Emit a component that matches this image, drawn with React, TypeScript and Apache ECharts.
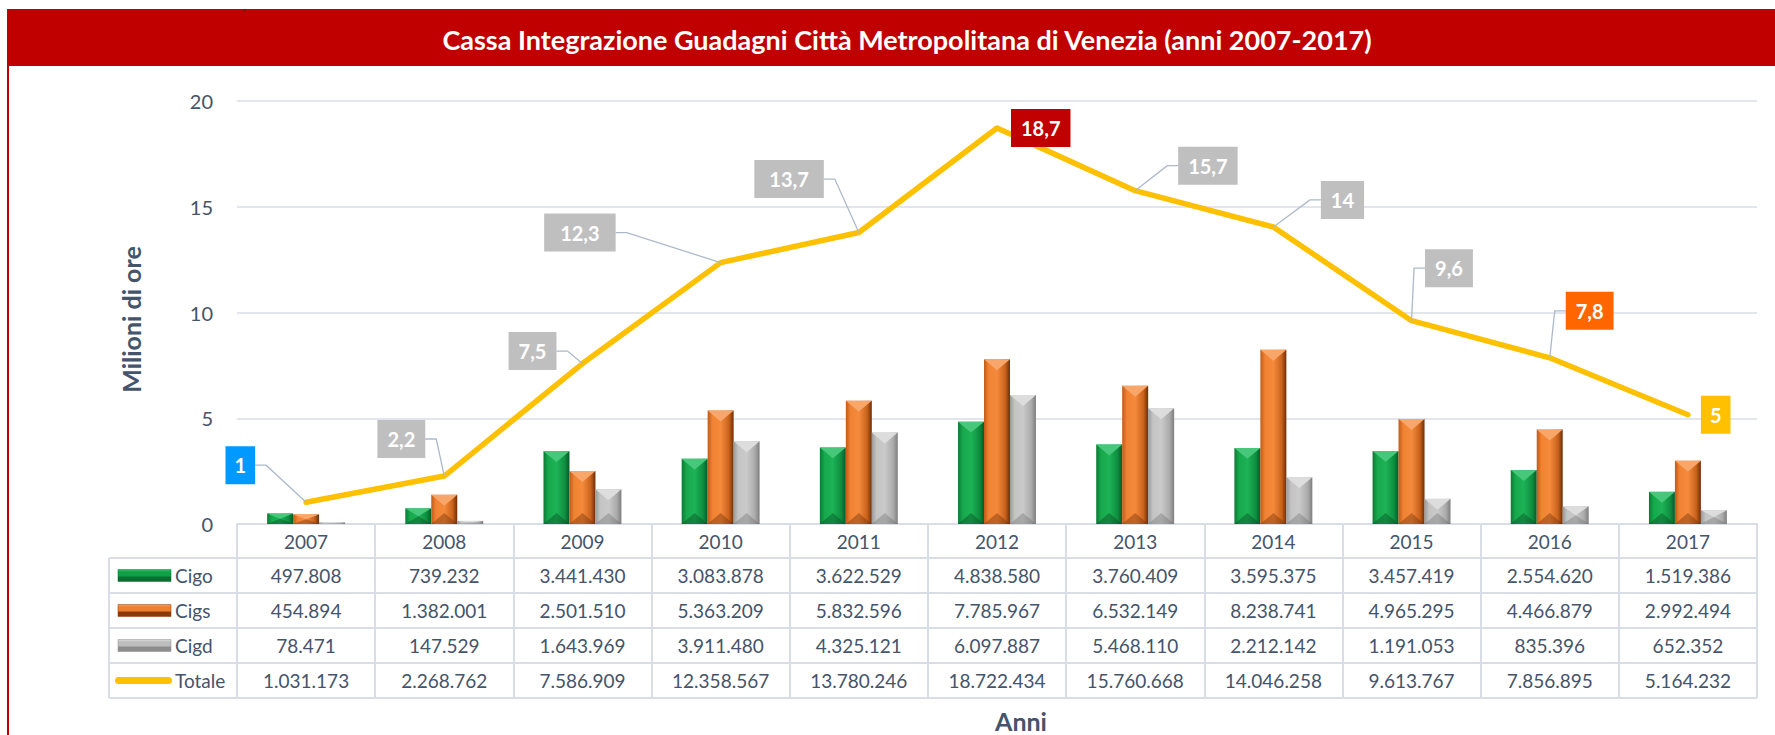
import React, { useEffect, useRef } from 'react';
import * as echarts from 'echarts';

const years = ['2007', '2008', '2009', '2010', '2011', '2012', '2013', '2014', '2015', '2016', '2017'];
const cigo = [497808, 739232, 3441430, 3083878, 3622529, 4838580, 3760409, 3595375, 3457419, 2554620, 1519386];
const cigs = [454894, 1382001, 2501510, 5363209, 5832596, 7785967, 6532149, 8238741, 4965295, 4466879, 2992494];
const cigd = [78471, 147529, 1643969, 3911480, 4325121, 6097887, 5468110, 2212142, 1191053, 835396, 652352];
const totale = [1031173, 2268762, 7586909, 12358567, 13780246, 18722434, 15760668, 14046258, 9613767, 7856895, 5164232];
const totaleLabels = ['1', '2,2', '7,5', '12,3', '13,7', '18,7', '15,7', '14', '9,6', '7,8', '5'];
const seriesNames = ['Cigo', 'Cigs', 'Cigd', 'Totale'];
const titleText = 'Cassa Integrazione Guadagni Città Metropolitana di Venezia (anni 2007-2017)';
const yAxisTitle = 'Milioni di ore';
const xAxisTitle = 'Anni';
const yMin = 0;
const yMax = 20;
const yStep = 5;

// label styling / placement (offset of the box's anchor edge from the point)
const labelColors = ['#0099FF', '#BFBFBF', '#BFBFBF', '#BFBFBF', '#BFBFBF', '#C00000', '#BFBFBF', '#BFBFBF', '#BFBFBF', '#FF6600', '#FFC000'];
const labelPadX = [9, 10, 10, 16, 15, 10, 10, 10, 10, 10, 9];
const labelLayout: [number, number, 'R' | 'L', boolean][] = [
  [-51, -37, 'R', true],
  [-19, -37, 'R', true],
  [-26, -12.5, 'R', true],
  [-105, -30, 'R', true],
  [-35, -53.5, 'R', true],
  [14, 0, 'L', false],
  [43, -25, 'L', true],
  [47.5, -27, 'L', true],
  [13.5, -52.5, 'L', true],
  [16, -47, 'L', true],
  [13, 0, 'L', false],
];

const TEXT = '#44546A';
const GRIDC = '#D9DEE6';
const FONT = 'Lato';

const barStyles = [
  {
    stops: ['#0B7A35', '#17A84C', '#1DB356', '#0F8E40', '#075A26'],
    top: '#47C77A', bottom: 'rgba(4,70,30,0.4)',
    legend: ['#3CC26E', '#11A047', '#0B6E30'],
  },
  {
    stops: ['#C25A15', '#F08333', '#F58A3C', '#C8621C', '#6E2E06'],
    top: '#F9A66B', bottom: 'rgba(110,45,5,0.4)',
    legend: ['#FBA262', '#EE7F30', '#8A3A0A'],
  },
  {
    stops: ['#9A9A9A', '#C4C4C4', '#CACACA', '#ABABAB', '#7E7E7E'],
    top: '#DDDDDD', bottom: 'rgba(90,90,90,0.3)',
    legend: ['#E0E0E0', '#BDBDBD', '#8C8C8C'],
  },
];

const fmt = (n: number) => String(n).replace(/\B(?=(\d{3})+(?!\d))/g, '.');

// layout
const GRID_LEFT = 237;
const GRID_RIGHT_X = 1757;
const GRID_TOP = 101;
const GRID_BOTTOM_Y = 524;
const HEADER_H = 34;
const ROW_H = 35;
const TABLE_LEFT = 109;

function makeBars(name: string, values: number[], idx: number) {
  const st = barStyles[idx];
  return {
    type: 'custom',
    name,
    xAxisIndex: 0,
    yAxisIndex: 0,
    clip: false,
    z: 2,
    data: values.map((v, i) => [i, v / 1e6]),
    renderItem: (params: any, api: any) => {
      const cat = api.value(0);
      const v = api.value(1);
      const top = api.coord([cat, v]);
      const base = api.coord([cat, 0]);
      const band = api.size([1, 0])[0];
      const w = band * 0.188;
      const x0 = top[0] + (idx - 1) * w - w / 2;
      const x1 = x0 + w;
      const xc = (x0 + x1) / 2;
      const yT = top[1];
      const yB = base[1];
      const h = Math.max(0, yB - yT);
      const b = Math.min(w * 0.42, h / 2);
      const grad = new echarts.graphic.LinearGradient(0, 0, 1, 0, [
        { offset: 0, color: st.stops[0] },
        { offset: 0.18, color: st.stops[1] },
        { offset: 0.5, color: st.stops[2] },
        { offset: 0.82, color: st.stops[3] },
        { offset: 1, color: st.stops[4] },
      ]);
      return {
        type: 'group',
        children: [
          { type: 'rect', shape: { x: x0, y: yT, width: w, height: h }, style: { fill: grad } },
          { type: 'polygon', shape: { points: [[x0, yT], [x1, yT], [xc, yT + b]] }, style: { fill: st.top } },
          { type: 'polygon', shape: { points: [[x0, yB], [x1, yB], [xc, yB - b]] }, style: { fill: st.bottom } },
        ],
      };
    },
  };
}

export default function App() {
  const ref = useRef<HTMLDivElement>(null);

  useEffect(() => {
    if (!ref.current) return;
    const chart = echarts.init(ref.current, undefined, { renderer: 'svg' });

    const rows = [cigo, cigs, cigd, totale];
    const baseAxis = {
      type: 'category',
      data: years,
      position: 'bottom',
      gridIndex: 0,
      boundaryGap: true,
      axisLine: { show: true, lineStyle: { color: GRIDC, width: 2 } },
      axisTick: { show: true, interval: 0, alignWithLabel: false, inside: false, lineStyle: { color: GRIDC, width: 2 } },
      splitLine: { show: false },
    };
    const xAxes: any[] = [
      {
        ...baseAxis,
        axisTick: { ...baseAxis.axisTick, length: HEADER_H },
        axisLabel: { interval: 0, margin: HEADER_H / 2, verticalAlign: 'middle', color: TEXT, fontSize: 19, fontFamily: FONT },
      },
    ];
    rows.forEach((r, k) => {
      xAxes.push({
        ...baseAxis,
        offset: HEADER_H + k * ROW_H,
        axisTick: { ...baseAxis.axisTick, length: ROW_H },
        axisLabel: {
          interval: 0,
          margin: ROW_H / 2,
          verticalAlign: 'middle',
          color: TEXT,
          fontSize: 19,
          fontFamily: FONT,
          formatter: (_v: string, i: number) => fmt(r[i]),
        },
      });
    });

    const graphics: any[] = [
      { type: 'rect', z: 0, shape: { x: 8, y: 9, width: 1800, height: 57 }, style: { fill: '#C00000' } },
      { type: 'rect', z: 0, shape: { x: 7, y: 9, width: 2, height: 740 }, style: { fill: '#C00000' } },
      { type: 'text', z: 1, x: 243, y: 0, style: { text: ',', fontSize: 11, fontFamily: 'serif', fill: '#222', verticalAlign: 'top' } },
      {
        type: 'text', z: 5, x: 131, y: (GRID_TOP + GRID_BOTTOM_Y) / 2 + 7, rotation: Math.PI / 2,
        style: { text: yAxisTitle, align: 'center', verticalAlign: 'middle', fill: TEXT, fontSize: 25, fontWeight: 'bold', fontFamily: FONT },
      },
      {
        type: 'text', z: 5, x: 1021, y: 721,
        style: { text: xAxisTitle, align: 'center', verticalAlign: 'middle', fill: TEXT, fontSize: 25, fontWeight: 'bold', fontFamily: FONT },
      },
    ];
    // table frame pieces in the legend column + outer lines
    const lineStyle = { stroke: GRIDC, lineWidth: 2 };
    const tableBottom = GRID_BOTTOM_Y + HEADER_H + rows.length * ROW_H;
    for (let k = 0; k < rows.length; k++) {
      const y = GRID_BOTTOM_Y + HEADER_H + k * ROW_H;
      graphics.push({ type: 'line', z: 1, shape: { x1: TABLE_LEFT, y1: y, x2: GRID_LEFT, y2: y }, style: lineStyle });
    }
    graphics.push({ type: 'line', z: 1, shape: { x1: TABLE_LEFT, y1: tableBottom, x2: GRID_RIGHT_X, y2: tableBottom }, style: lineStyle });
    graphics.push({ type: 'line', z: 1, shape: { x1: TABLE_LEFT, y1: GRID_BOTTOM_Y + HEADER_H, x2: TABLE_LEFT, y2: tableBottom }, style: lineStyle });
    graphics.push({ type: 'line', z: 1, shape: { x1: GRID_LEFT, y1: GRID_BOTTOM_Y, x2: GRID_LEFT, y2: tableBottom }, style: lineStyle });
    graphics.push({ type: 'line', z: 1, shape: { x1: GRID_RIGHT_X, y1: GRID_BOTTOM_Y, x2: GRID_RIGHT_X, y2: tableBottom }, style: lineStyle });

    // row headers (legend keys)
    seriesNames.forEach((name, k) => {
      const cy = GRID_BOTTOM_Y + HEADER_H + k * ROW_H + ROW_H / 2;
      if (k < 3) {
        const lg = barStyles[k].legend;
        graphics.push({
          type: 'rect', z: 2, shape: { x: 118, y: cy - 6, width: 53, height: 12 },
          style: {
            fill: new echarts.graphic.LinearGradient(0, 0, 0, 1, [
              { offset: 0, color: lg[0] },
              { offset: 0.2, color: lg[1] },
              { offset: 0.55, color: lg[1] },
              { offset: 0.62, color: lg[2] },
              { offset: 1, color: lg[2] },
            ]),
            stroke: lg[2], lineWidth: 0.5,
          },
        });
      } else {
        graphics.push({ type: 'rect', z: 2, shape: { x: 115, y: cy - 3.5, width: 57, height: 7, r: 3.5 }, style: { fill: '#FFC000' } });
      }
      graphics.push({
        type: 'text', z: 2, x: 175, y: cy,
        style: { text: name, align: 'left', verticalAlign: 'middle', fill: TEXT, fontSize: 19, fontFamily: FONT },
      });
    });

    const option: any = {
      animation: false,
      title: {
        text: titleText,
        left: 902,
        top: 21,
        textAlign: 'center',
        textStyle: { color: '#FFFFFF', fontWeight: 'bold', fontSize: 27, fontFamily: FONT },
        z: 10,
      },
      grid: {
        left: GRID_LEFT,
        top: GRID_TOP,
        right: 1775 - GRID_RIGHT_X,
        bottom: 735 - GRID_BOTTOM_Y,
        containLabel: false,
      },
      xAxis: xAxes,
      yAxis: {
        type: 'value',
        min: yMin,
        max: yMax,
        interval: yStep,
        axisLine: { show: false },
        axisTick: { show: false },
        axisLabel: { color: TEXT, fontSize: 20, fontFamily: FONT, margin: 24 },
        splitLine: { show: true, lineStyle: { color: GRIDC, width: 1.5 } },
      },
      graphic: graphics,
      series: [
        makeBars(seriesNames[0], cigo, 0),
        makeBars(seriesNames[1], cigs, 1),
        makeBars(seriesNames[2], cigd, 2),
        {
          type: 'line',
          name: seriesNames[3],
          data: totale.map((v) => v / 1e6),
          xAxisIndex: 0,
          showSymbol: false,
          symbol: 'none',
          z: 3,
          lineStyle: { color: '#FFC000', width: 5.5, cap: 'round', join: 'round' },
          itemStyle: { color: '#FFC000' },
        },
        {
          type: 'custom',
          name: 'Etichette Totale',
          xAxisIndex: 0,
          clip: false,
          z: 4,
          data: totale.map((v, i) => [i, v / 1e6]),
          renderItem: (params: any, api: any) => {
            const i = params.dataIndex;
            const p = api.coord([api.value(0), api.value(1)]);
            const [dx, dy, side, leader] = labelLayout[i];
            const ax = p[0] + dx;
            const ay = p[1] + dy;
            const children: any[] = [];
            if (leader) {
              const stub = side === 'R' ? ax + 11 : ax - 11;
              children.push({
                type: 'polyline',
                shape: { points: [[ax, ay], [stub, ay], [p[0], p[1]]] },
                style: { stroke: '#ADB9CA', lineWidth: 1.3, fill: 'none' },
              });
            }
            const px = labelPadX[i];
            children.push({
              type: 'text',
              style: {
                text: totaleLabels[i],
                x: ax,
                y: ay,
                align: side === 'R' ? 'right' : 'left',
                verticalAlign: 'middle',
                fill: '#FFFFFF',
                fontSize: 20,
                fontWeight: 'bold',
                fontFamily: FONT,
                backgroundColor: labelColors[i],
                padding: [9, px, 9, px],
              },
            });
            return { type: 'group', children };
          },
        },
      ],
    };

    chart.setOption(option);
    return () => chart.dispose();
  }, []);

  return <div ref={ref} style={{ position: 'absolute', left: 0, top: 0, width: 1775, height: 735 }} />;
}
